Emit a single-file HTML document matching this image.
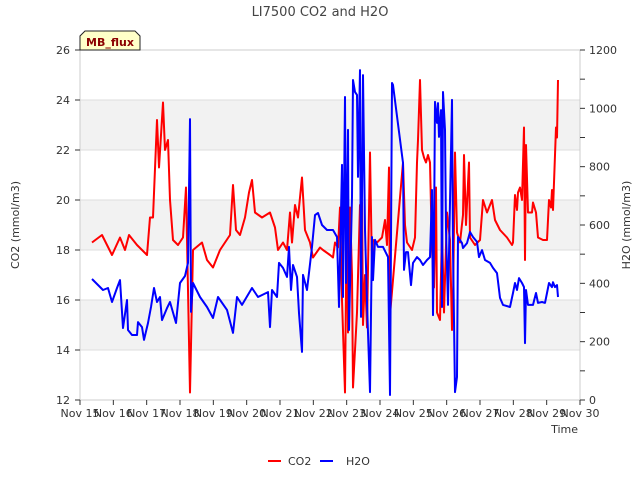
<!DOCTYPE html>
<html><head><meta charset="utf-8"><style>
body{margin:0;background:#fff;font-family:"Liberation Sans","DejaVu Sans",sans-serif;}
svg text{font-family:"DejaVu Sans","Liberation Sans",sans-serif;}
</style></head><body>
<svg id="chart" width="640" height="480" viewBox="0 0 640 480">
<text x="320" y="16" text-anchor="middle" font-size="13" fill="#444">LI7500 CO2 and H2O</text>
<g id="bands"></g>
<rect x="80" y="50" width="500" height="350" fill="none" stroke="#ccc"/>
<g id="axes"></g>
<g id="series"></g>
<g>
<path d="M80,50 L80,36 L85,31 L135,31 L140,36 L140,50 Z" fill="#ffffc8" stroke="#222"/>
<text x="110" y="46" text-anchor="middle" font-size="11" font-weight="bold" fill="#8b0000">MB_flux</text>
</g>
<text transform="translate(19,225) rotate(-90)" text-anchor="middle" font-size="11" fill="#333">CO2 (mmol/m3)</text>
<text transform="translate(630,225) rotate(-90)" text-anchor="middle" font-size="11" fill="#333">H2O (mmol/m3)</text>
<text x="578" y="433" text-anchor="end" font-size="11" fill="#333">Time</text>
<g>
<line x1="268" y1="461" x2="281" y2="461" stroke="#f00" stroke-width="2"/>
<text x="288" y="465" font-size="11" fill="#333">CO2</text>
<line x1="320" y1="461" x2="333" y2="461" stroke="#00f" stroke-width="2"/>
<text x="346" y="465" font-size="11" fill="#333">H2O</text>
</g>
</svg>
<script>
const xTickLabels=["Nov 15","Nov 16","Nov 17","Nov 18","Nov 19","Nov 20","Nov 21","Nov 22","Nov 23","Nov 24","Nov 25","Nov 26","Nov 27","Nov 28","Nov 29","Nov 30"];
const leftTicks=[12,14,16,18,20,22,24,26];
const rightTicks=[0,200,400,600,800,1000,1200];
const co2Days=[0.36,0.66,0.96,1.2,1.35,1.47,1.71,2.01,2.1,2.19,2.31,2.37,2.49,2.55,2.64,2.7,2.79,2.94,3.09,3.18,3.3,3.39,3.66,3.81,3.99,4.2,4.5,4.59,4.68,4.8,4.95,5.07,5.16,5.25,5.46,5.7,5.85,5.94,6.09,6.21,6.3,6.36,6.45,6.54,6.66,6.75,6.9,6.99,7.2,7.29,7.5,7.59,7.65,7.74,7.8,7.86,7.95,8.01,8.04,8.1,8.16,8.19,8.31,8.4,8.46,8.49,8.55,8.61,8.7,8.76,8.79,8.91,9.06,9.15,9.21,9.27,9.3,9.69,9.75,9.81,9.96,10.05,10.11,10.14,10.2,10.26,10.32,10.38,10.44,10.5,10.56,10.62,10.68,10.71,10.8,10.86,10.92,11.01,11.1,11.16,11.19,11.25,11.31,11.4,11.49,11.52,11.58,11.67,11.7,11.85,12.0,12.09,12.21,12.36,12.45,12.6,12.81,12.96,12.99,13.05,13.11,13.14,13.2,13.26,13.32,13.35,13.38,13.44,13.56,13.59,13.68,13.74,13.89,14.01,14.07,14.13,14.16,14.19,14.25,14.28,14.31,14.34];
const co2Values=[18.3,18.6,17.8,18.5,18.0,18.6,18.2,17.8,19.3,19.3,23.2,21.3,23.9,22.0,22.4,20.0,18.4,18.2,18.5,20.5,12.3,18.0,18.3,17.6,17.3,18.0,18.6,20.6,18.8,18.6,19.3,20.3,20.8,19.5,19.3,19.5,18.9,18.0,18.3,18.0,19.5,18.3,19.8,19.3,20.9,18.8,18.3,17.7,18.1,18.0,17.8,17.7,18.3,18.1,19.7,16.0,12.3,20.6,14.7,19.7,17.0,12.5,15.5,19.8,19.9,15.0,17.0,14.9,21.9,17.2,18.4,18.3,18.5,19.2,18.2,21.3,15.4,21.5,19.0,18.3,18.0,18.5,21.5,22.4,24.8,22.0,21.7,21.5,21.8,21.5,18.0,16.5,20.5,15.5,15.2,18.8,15.5,19.5,18.4,14.8,16.0,21.9,18.7,18.3,19.4,21.8,19.0,21.5,18.5,18.2,18.4,20.0,19.5,20.0,19.2,18.8,18.5,18.2,18.3,20.2,19.6,20.3,20.5,20.0,22.9,17.6,22.2,19.5,19.5,19.9,19.5,18.5,18.4,18.4,20.0,19.7,20.4,19.6,21.8,22.9,22.5,24.8];
const h2oDays=[0.36,0.69,0.84,0.96,1.11,1.2,1.29,1.41,1.44,1.56,1.71,1.74,1.86,1.92,2.04,2.13,2.22,2.31,2.4,2.46,2.61,2.7,2.88,3.0,3.15,3.24,3.3,3.33,3.39,3.6,3.81,3.99,4.14,4.41,4.59,4.71,4.86,5.16,5.34,5.64,5.7,5.76,5.91,5.97,6.09,6.21,6.27,6.33,6.39,6.51,6.57,6.66,6.69,6.81,6.96,7.05,7.14,7.26,7.41,7.59,7.71,7.77,7.86,7.89,7.95,7.98,8.04,8.07,8.16,8.19,8.25,8.31,8.34,8.4,8.43,8.49,8.55,8.61,8.7,8.76,8.79,8.85,8.94,9.09,9.21,9.24,9.3,9.36,9.39,9.69,9.72,9.78,9.84,9.93,9.99,10.11,10.2,10.29,10.41,10.5,10.56,10.59,10.62,10.65,10.71,10.74,10.77,10.83,10.86,10.89,10.95,10.98,11.04,11.16,11.19,11.25,11.31,11.34,11.46,11.49,11.61,11.7,11.79,11.91,11.97,12.06,12.15,12.3,12.39,12.51,12.6,12.69,12.9,12.99,13.05,13.11,13.17,13.26,13.32,13.35,13.38,13.44,13.59,13.68,13.74,13.86,13.95,14.01,14.07,14.16,14.19,14.25,14.31,14.34];
const h2oValues=[415,377,384,336,384,411,247,343,240,223,223,267,250,206,264,319,384,336,353,274,315,336,264,401,425,470,963,302,401,353,319,281,353,309,230,353,326,384,353,370,250,377,353,470,453,422,525,377,463,422,298,165,429,377,525,634,641,600,583,583,559,319,806,353,1039,401,926,240,696,1097,1056,1046,765,1131,285,1114,583,333,27,559,411,549,525,525,497,490,17,1087,1080,813,446,507,507,394,470,490,480,463,480,490,720,291,559,1022,950,1018,902,994,319,1056,926,583,326,1029,514,27,79,559,538,521,538,576,559,542,490,514,480,470,453,435,350,326,319,367,401,377,418,401,387,195,377,326,326,367,333,336,333,367,401,387,404,387,394,353];

const NS="http://www.w3.org/2000/svg";
const X0=80,X1=580,Y0=400,Y1=50;
const xs=d=>X0+(X1-X0)*d/15;
const yl=v=>Y0-(Y0-Y1)*(v-12)/14;
const yr=v=>Y0-(Y0-Y1)*v/1200;
function mk(tag,attrs,parent){const e=document.createElementNS(NS,tag);for(const k in attrs)e.setAttribute(k,attrs[k]);parent.appendChild(e);return e;}
const bands=document.getElementById('bands'),axes=document.getElementById('axes'),series=document.getElementById('series');
[[14,16],[18,20],[22,24]].forEach(b=>{
  const r=mk('rect',{x:X0,y:yl(b[1]),width:X1-X0,height:yl(b[0])-yl(b[1]),fill:'#f2f2f2'},bands);
  
  
});
leftTicks.forEach(v=>{
  const g=mk('line',{x1:X0,x2:X1,y1:yl(v),y2:yl(v),stroke:'#ddd'},bands);
  
  
  const t=mk('line',{x1:X0-5,x2:X0,y1:yl(v),y2:yl(v),stroke:'#333'},axes);
  
  
  const l=mk('text',{x:X0-10,y:yl(v)+4,'text-anchor':'end','font-size':11,fill:'#333'},axes);
  l.textContent=v;
  
  
});
for(let v=0;v<=1200;v+=100){
  const t=mk('line',{x1:X1,x2:X1+5,y1:yr(v),y2:yr(v),stroke:'#333'},axes);
  
  
}
rightTicks.forEach(v=>{
  const l=mk('text',{x:X1+9,y:yr(v)+4,'font-size':11,fill:'#333'},axes);
  l.textContent=v;
  
  
});
xTickLabels.forEach((s,i)=>{
  const t=mk('line',{x1:xs(i),x2:xs(i),y1:Y0,y2:Y0+5,stroke:'#333'},axes);
  
  
  const l=mk('text',{x:xs(i),y:Y0+17,'text-anchor':'middle','font-size':11,fill:'#333'},axes);
  l.textContent=s;
  
  
});
const p1=mk('polyline',{points:co2Days.map((d,i)=>xs(d).toFixed(1)+','+yl(co2Values[i]).toFixed(1)).join(' '),fill:'none',stroke:'#f00','stroke-width':2,'stroke-linejoin':'round'},series);


const p2=mk('polyline',{points:h2oDays.map((d,i)=>xs(d).toFixed(1)+','+yr(h2oValues[i]).toFixed(1)).join(' '),fill:'none',stroke:'#00f','stroke-width':2,'stroke-linejoin':'round'},series);


</script>
</body></html>
